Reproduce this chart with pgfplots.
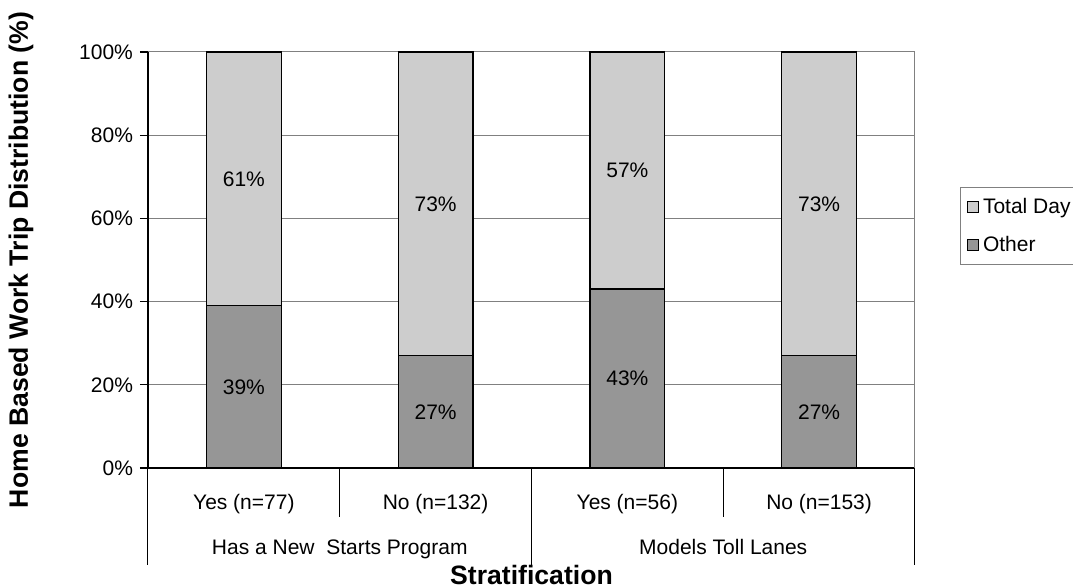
\documentclass[border=0pt]{standalone}
\usepackage{pgfplots}
\pgfplotsset{compat=1.18}
\usepackage{pgfplotstable}
\usepackage{fontspec}
\setmainfont{Liberation Sans}

\definecolor{othergray}{HTML}{969696}
\definecolor{daygray}{HTML}{CDCDCD}
\definecolor{gridgray}{HTML}{808080}

% share of home based work trips, in percent
\pgfplotstableread{
x   other day
0.5 39    61
1.5 27    73
2.5 43    57
3.5 27    73
}\trips

\pgfplotsset{
  sq legend/.style={legend image code/.code={
    \draw[##1,draw=black,line width=0.7pt] (1.5pt,-2.75pt) rectangle (7pt,2.75pt);}},
  common/.style={
    scale only axis, width=383.5pt, height=208pt,
    xmin=0, xmax=4, ymin=0, ymax=100,
    /pgf/number format/assume math mode=true,
  },
}

\begin{document}
\begin{tikzpicture}[font=\fontsize{10.5}{12}\selectfont]
\begin{axis}[common, clip=false,
  ybar stacked, bar width=0.39,
  axis x line*=bottom, axis y line*=left,
  axis line style={black, line width=0.6pt},
  ytick={0,20,...,100},
  yticklabel={\pgfmathprintnumber{\tick}\%},
  ymajorgrids, grid style={gridgray, line width=0.5pt},
  tick align=outside, major tick length=4pt,
  ytick style={black, line width=0.6pt},
  xtick={0.5,1.5,2.5,3.5},
  xticklabels={Yes (n=77), No (n=132), Yes (n=56), No (n=153)},
  xtick style={draw=none},
  xticklabel style={anchor=center, yshift=-14pt},
  ylabel={\textbf{Home Based Work Trip Distribution (\%)}},
  ylabel style={at={(axis description cs:-0.1656,0.5)}, anchor=center,
    font=\fontsize{13.3}{15}\selectfont},
  xlabel={\textbf{Stratification}},
  xlabel style={at={(axis description cs:0.5,0)}, anchor=center, yshift=-53.5pt,
    font=\fontsize{13.3}{15}\selectfont},
  reverse legend,
  legend cell align=left,
  legend style={at={(1.0587,0.675)}, anchor=north west, draw=gridgray,
    line width=0.6pt, row sep=6pt, inner ysep=3pt, inner xsep=3pt,
    font=\fontsize{10.5}{12}\selectfont},
]
\addplot[fill=othergray, draw=black, line width=0.7pt, sq legend]
  table[x=x, y=other] {\trips};
\addlegendentry{Other}
\addplot[fill=daygray, draw=black, line width=0.7pt, sq legend]
  table[x=x, y=day] {\trips};
\addlegendentry{Total Day}

% right frame and category table below the axis
\draw[gridgray, line width=0.5pt] (axis cs:4,0) -- (axis cs:4,100);
\draw[black, line width=0.5pt] (axis cs:0,0) -- ++(0,-48.5pt);
\draw[black, line width=0.5pt] (axis cs:2,0) -- ++(0,-48.5pt);
\draw[black, line width=0.5pt] (axis cs:4,0) -- ++(0,-48.5pt);
\draw[black, line width=0.5pt] (axis cs:1,0) -- ++(0,-24.5pt);
\draw[black, line width=0.5pt] (axis cs:3,0) -- ++(0,-24.5pt);
\node[anchor=base] at ([yshift=-43.5pt]axis cs:1,0) {Has a New\ \ Starts Program};
\node[anchor=base] at ([yshift=-43.5pt]axis cs:3,0) {Models Toll Lanes};
\end{axis}

% value labels, centred in each segment
\begin{axis}[common, hide axis]
\addplot[only marks, mark=none, point meta=explicit,
  nodes near coords={\pgfmathprintnumber{\pgfplotspointmeta}\%},
  nodes near coords align=center]
  table[x=x, y expr=\thisrow{other}/2, meta=other] {\trips};
\addplot[only marks, mark=none, point meta=explicit,
  nodes near coords={\pgfmathprintnumber{\pgfplotspointmeta}\%},
  nodes near coords align=center]
  table[x=x, y expr=\thisrow{other}+\thisrow{day}/2, meta=day] {\trips};
\end{axis}

\pgfresetboundingbox
\path[use as bounding box] (-74pt,-60pt) rectangle (462.5pt,234pt);
\end{tikzpicture}
\end{document}
